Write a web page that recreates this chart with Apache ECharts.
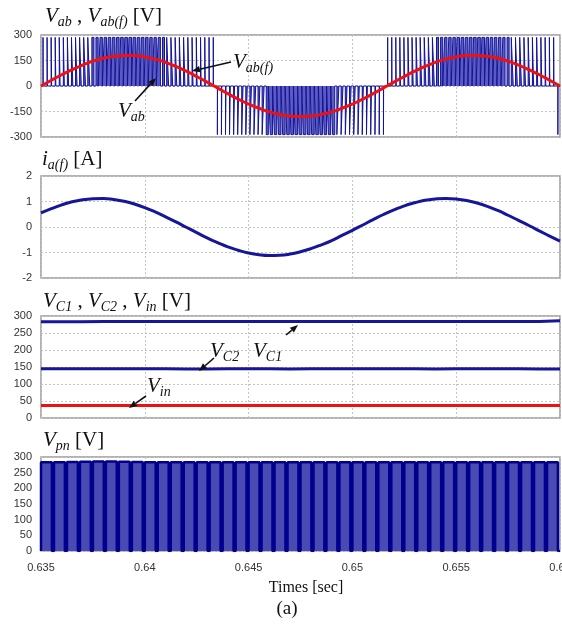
<!DOCTYPE html>
<html><head><meta charset="utf-8">
<script src="https://cdn.jsdelivr.net/npm/echarts@6/dist/echarts.min.js"></script>
<style>html,body{margin:0;padding:0;background:#fff}#c{width:562px;height:628px}</style>
</head><body><div id="c"></div>
<script>
// ---------- data ----------
const xTicks = ['0.635','0.64','0.645','0.65','0.655','0.66'];
const tStart = 0.635, tEnd = 0.66, tStep = 0.005;

// filtered line voltage V_ab(f) [V], every 0.5 ms
const vabfStep = 0.0005;
const vabf = [0,34,66,96,123,146,163,174,180,179,
  171,158,139,115,87,56,23,-11,-45,-77,
  -106,-131,-152,-167,-177,-180,-177,-167,-152,-131,
  -106,-77,-45,-11,23,56,87,115,139,158,
  171,179,180,174,163,146,123,96,66,34,0];

// PWM line voltage V_ab: pulse width per switching period (% of period, sign = polarity)
const pwmPeriod = 0.0002;
const pwmLevel = 286;
const pwmDuty = [2,7,12,16,21,25,29,33,37,41,
  44,47,50,53,55,57,59,60,61,62,
  62,62,62,61,60,58,56,54,52,49,
  46,43,40,36,32,28,24,19,15,10,
  5,1,
  -4,-9,-13,-18,-22,-26,-31,-35,-38,-42,
  -45,-48,-51,-54,-56,-58,-59,-60,-61,-62,
  -62,-62,-61,-60,-59,-58,-56,-54,-51,-48,
  -45,-42,-38,-35,-31,-26,-22,-18,-13,-9,
  -4,
  1,5,10,15,19,24,28,32,36,40,
  43,46,49,52,54,56,58,60,61,62,
  62,62,62,61,60,59,57,55,53,50,
  47,44,41,37,33,29,25,21,16,12,
  7,-3];

// filtered phase current i_a(f) [A], every 0.5 ms
const iaStep = 0.0005;
const iaf = [0.55,0.72,0.87,0.99,1.07,1.11,1.12,1.08,1.01,0.90,
  0.76,0.59,0.40,0.20,-0.01,-0.22,-0.43,-0.61,-0.78,-0.91,
  -1.02,-1.09,-1.12,-1.11,-1.06,-0.97,-0.85,-0.70,-0.53,-0.33,
  -0.13,0.08,0.29,0.49,0.67,0.83,0.95,1.05,1.10,1.12,
  1.10,1.04,0.94,0.81,0.65,0.46,0.26,0.06,-0.15,-0.36,-0.55];

// capacitor and input voltages [V], every 1 ms
const vcStep = 0.001;
const vc1 = [283,283,283,284,284,284,284,284,284,284,284,284,284,284,284,284,284,284,284,284,284,284,284,284,284,286];
const vc2 = [145,145,145,145,145,145,145,144,144,145,145,145,144,145,145,145,145,145,145,144,145,145,145,145,144,144];
const vin = [37,37,37,37,37,37,37,37,37,37,37,37,37,37,37,37,37,37,37,37,37,37,37,37,37,37];

// DC-link voltage V_pn: top level per shoot-through period [V]
const vpnPeriod = 0.000625;
const vpnZeroPct = 16;
const vpnTop = [283,283,284,285,286,286,285,284,283,283,
  283,283,283,283,283,283,283,283,283,283,
  283,283,283,283,283,283,283,283,283,283,
  283,283,283,283,283,283,283,283,283,283];

// ---------- build series data ----------
function stepSeries(arr, step){ return arr.map((v,i)=>[tStart+i*step, v]); }
const pwmData = [[tStart,0]];
pwmDuty.forEach((d,k)=>{
  const c = tStart + (k+0.5)*pwmPeriod, w = Math.abs(d)/100*pwmPeriod, L = Math.sign(d)*pwmLevel;
  pwmData.push([c-w/2,0],[c-w/2,L],[c+w/2,L],[c+w/2,0]);
});
pwmData.push([tEnd,0]);
const vpnData = [];
vpnTop.forEach((v,k)=>{
  const t0 = tStart + k*vpnPeriod, z = vpnZeroPct/100*vpnPeriod;
  vpnData.push([t0,0],[t0,v],[t0+vpnPeriod-z,v],[t0+vpnPeriod-z,0]);
});
vpnData.push([tEnd,0]);

// ---------- layout ----------
const grids = [
  {left:41, top:35, width:519, height:102},
  {left:41, top:176, width:519, height:102},
  {left:41, top:316, width:519, height:102},
  {left:41, top:457, width:519, height:94}
];
const yDefs = [
  {min:-300,max:300,interval:150},
  {min:-2,max:2,interval:1},
  {min:0,max:300,interval:50},
  {min:0,max:300,interval:50}
];
const split = {show:true, lineStyle:{color:'#c4c4c4', type:[2,2], width:1}};
const tickFont = {fontFamily:'Arial, "Liberation Sans", sans-serif', fontSize:11, color:'#333'};

const serif = '"Liberation Serif","Times New Roman",serif';
const rich = {
  v:{fontFamily:serif, fontStyle:'italic', fontSize:21, lineHeight:26, verticalAlign:'middle', fill:'#111'},
  s:{fontFamily:serif, fontStyle:'italic', fontSize:14, lineHeight:26, verticalAlign:'bottom', fill:'#111'},
  n:{fontFamily:serif, fontSize:21, lineHeight:26, verticalAlign:'middle', fill:'#111'}
};
function rtext(x,y,text){ return {type:'text', x, y, z:100, style:{text, rich, fill:'#111'}}; }
function arrow(x1,y1,x2,y2){
  const a=Math.atan2(y2-y1,x2-x1), L=8, W=3.2;
  const bx=x2-L*Math.cos(a), by=y2-L*Math.sin(a);
  const px=-Math.sin(a)*W, py=Math.cos(a)*W;
  return [{type:'line',z:100,shape:{x1,y1,x2:bx,y2:by},style:{stroke:'#111',lineWidth:1.6}},
          {type:'polygon',z:100,shape:{points:[[x2,y2],[bx+px,by+py],[bx-px,by-py]]},style:{fill:'#111'}}];
}

const graphic = [
  rtext(45,3,'{v|V}{s|ab}{n| , }{v|V}{s|ab(f)}{n| [V]}'),
  rtext(42,146,'{v|i}{s|a(f)}{n| [A]}'),
  rtext(43,288,'{v|V}{s|C1}{n| , }{v|V}{s|C2}{n| , }{v|V}{s|in}{n| [V]}'),
  rtext(43,427,'{v|V}{s|pn}{n| [V]}'),
  rtext(233,49,'{v|V}{s|ab(f)}'),
  rtext(118,98,'{v|V}{s|ab}'),
  rtext(210,338,'{v|V}{s|C2}'),
  rtext(253,338,'{v|V}{s|C1}'),
  rtext(147,373,'{v|V}{s|in}'),
  ...arrow(231,62,192,71),
  ...arrow(135,101,156,78),
  ...arrow(214,358,199,371),
  ...arrow(286,335,298,325),
  ...arrow(146,396,129,408),
  {type:'text', z:100, x:306, y:588, style:{text:'Times [sec]', fontFamily:serif, fontSize:16, fill:'#111', align:'center', verticalAlign:'middle'}},
  {type:'text', z:100, x:287, y:609, style:{text:'(a)', fontFamily:serif, fontSize:19, fill:'#111', align:'center', verticalAlign:'middle'}}
];

const option = {
  animation:false,
  grid: grids.map(g=>Object.assign({show:true, containLabel:false, outerBoundsMode:'none',
    borderColor:'#9a9a9a', borderWidth:1.5, backgroundColor:'#fff'}, g)),
  xAxis: grids.map((g,i)=>({
    type:'value', gridIndex:i, min:tStart, max:tEnd, interval:tStep,
    axisLine:{show:false}, axisTick:{show:false}, splitLine:split,
    axisLabel: i===3 ? Object.assign({show:true, margin:11, showMinLabel:true, showMaxLabel:true, hideOverlap:false,
      formatter:(v)=>xTicks[Math.round((v-tStart)/tStep)] || ''}, tickFont) : {show:false}
  })),
  yAxis: yDefs.map((d,i)=>Object.assign({
    type:'value', gridIndex:i, axisLine:{show:false}, axisTick:{show:false}, splitLine:split,
    axisLabel:Object.assign({margin:9, showMinLabel:true, showMaxLabel:true}, tickFont)
  }, d)),
  series: [
    {type:'line', xAxisIndex:0, yAxisIndex:0, data:pwmData, showSymbol:false, symbol:'none',
     lineStyle:{color:'#12129c', width:1}, areaStyle:{color:'#5c5cc0', opacity:1}, z:2},
    {type:'line', xAxisIndex:0, yAxisIndex:0, data:stepSeries(vabf,vabfStep), showSymbol:false, symbol:'none', smooth:true,
     lineStyle:{color:'#f01010', width:3}, z:5},
    {type:'line', xAxisIndex:1, yAxisIndex:1, data:stepSeries(iaf,iaStep), showSymbol:false, symbol:'none', smooth:true,
     lineStyle:{color:'#16169a', width:3}},
    {type:'line', xAxisIndex:2, yAxisIndex:2, data:stepSeries(vc1,vcStep), showSymbol:false, symbol:'none',
     lineStyle:{color:'#16169a', width:3}},
    {type:'line', xAxisIndex:2, yAxisIndex:2, data:stepSeries(vc2,vcStep), showSymbol:false, symbol:'none',
     lineStyle:{color:'#16169a', width:3}},
    {type:'line', xAxisIndex:2, yAxisIndex:2, data:stepSeries(vin,vcStep), showSymbol:false, symbol:'none',
     lineStyle:{color:'#f01010', width:3}},
    {type:'line', xAxisIndex:3, yAxisIndex:3, data:vpnData, showSymbol:false, symbol:'none',
     lineStyle:{color:'#00008c', width:2.5}, areaStyle:{color:'#4a4ab4', opacity:1}}
  ],
  graphic
};
const chart = echarts.init(document.getElementById('c'), null, {renderer:'canvas'});
chart.setOption(option);
</script>
</body></html>
